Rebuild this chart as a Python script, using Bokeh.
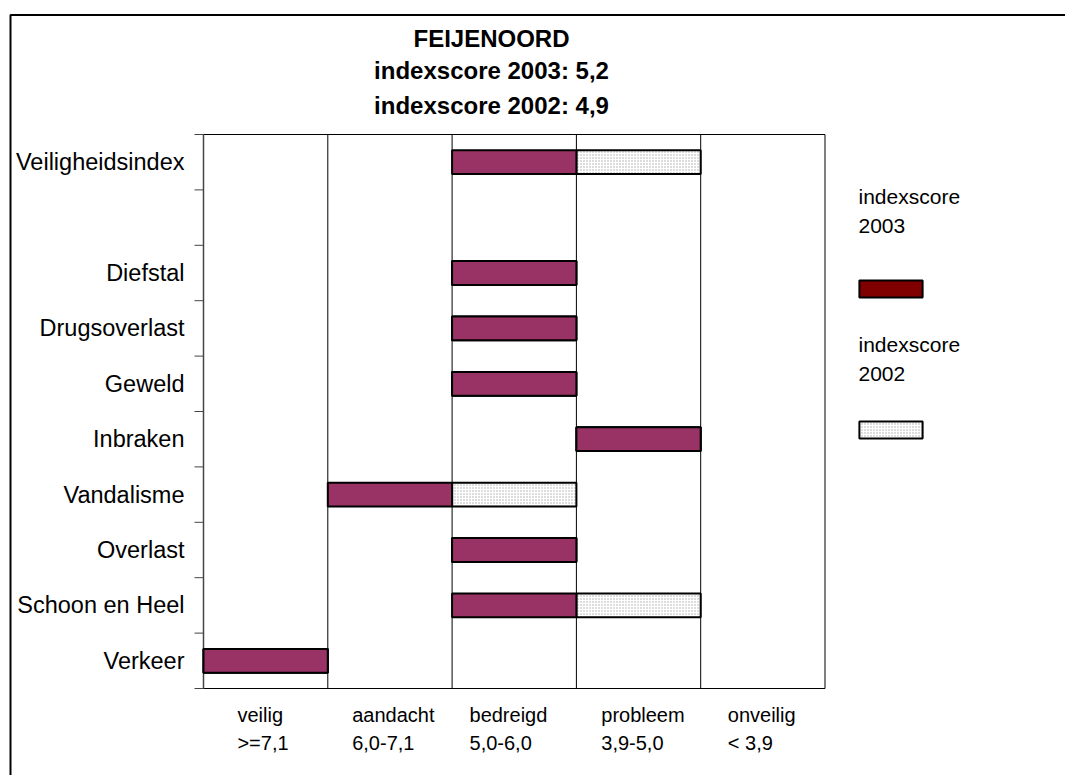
from bokeh.plotting import figure
from bokeh.models import (ColumnDataSource, Range1d, Label, Legend, LegendItem, PolyAnnotation)
from bokeh.core.properties import value
from bokeh.embed import file_html
from bokeh.resources import INLINE

# ---- data ----
categories = ["Veiligheidsindex", " ", "Diefstal", "Drugsoverlast", "Geweld", "Inbraken",
              "Vandalisme", "Overlast", "Schoon en Heel", "Verkeer"]
levels = ["veilig", "aandacht", "bedreigd", "probleem", "onveilig"]
level_ranges = [">=7,1", "6,0-7,1", "5,0-6,0", "3,9-5,0", "< 3,9"]
score_2003 = ["bedreigd", None, "bedreigd", "bedreigd", "bedreigd", "probleem",
              "aandacht", "bedreigd", "bedreigd", "veilig"]
score_2002 = ["probleem", None, "bedreigd", "bedreigd", "bedreigd", "probleem",
              "bedreigd", "bedreigd", "probleem", "veilig"]
title_lines = ["FEIJENOORD", "indexscore 2003: 5,2", "indexscore 2002: 4,9"]
legend_lines = [["indexscore", "2003"], ["indexscore", "2002"]]

# ---- layout constants (pixels) ----
W, H = 1065, 775
PLOT_L, PLOT_T = 203, 134          # top-left of plot area
BAND_PX, ROW_PX = 124.3, 55.4      # width of one band, height of one row
FONT = "Liberation Sans"

n_rows = len(categories)
n_bands = len(levels)
row_centers = [i + 0.5 for i in range(n_rows)]


def px_x(px):      # pixel offset -> data units (x)
    return px / BAND_PX


def px_y(px):      # pixel offset -> data units (y, downwards)
    return px / ROW_PX


def bar_source(scores):
    ys, lefts, rights = [], [], []
    for yc, s in zip(row_centers, scores):
        if s is None:
            continue
        i = levels.index(s)
        ys.append(yc)
        lefts.append(i)
        rights.append(i + 1)
    return ColumnDataSource(dict(y=ys, left=lefts, right=rights))


p = figure(width=W, height=H, output_backend="svg", toolbar_location=None,
           x_range=Range1d(-px_x(PLOT_L), px_x(W - PLOT_L)),
           y_range=Range1d(px_y(H - PLOT_T), -px_y(PLOT_T)),
           x_axis_location=None, y_axis_location=None,
           min_border=0, min_border_left=0, min_border_right=0,
           min_border_top=0, min_border_bottom=0)
p.outline_line_color = None
p.background_fill_color = "white"
p.border_fill_color = "white"
p.xgrid.visible = False
p.ygrid.visible = False

# outer frame (left and top edges visible)
p.add_layout(PolyAnnotation(xs=[10, 10, W + 50, W + 50], ys=[-50, H - 14.5, H - 14.5, -50],
                            xs_units="screen", ys_units="screen",
                            fill_alpha=0, line_color="black", line_alpha=1.0, line_width=2))

# plot area box and band separators
p.quad(left=[0], right=[n_bands], bottom=[n_rows], top=[0],
       fill_color=None, line_color="black", line_width=1)
p.quad(left=[0], right=[0], bottom=[n_rows], top=[0],
       fill_color=None, line_color="#444444", line_width=1.5)
bounds = list(range(1, n_bands))
p.segment(x0=bounds, y0=[0] * len(bounds), x1=bounds, y1=[n_rows] * len(bounds),
          line_color="black", line_width=1)

# row boundary tick marks on the left axis
row_bounds = list(range(n_rows + 1))
p.segment(x0=[-px_x(9)] * len(row_bounds), y0=row_bounds, x1=[0] * len(row_bounds),
          y1=row_bounds, line_color="#444444", line_width=1)

# category labels
p.text(x=[-px_x(19)] * n_rows, y=row_centers, text=categories,
       text_align="right", text_baseline="middle", text_font=value(FONT),
       text_font_size="23.5px", text_color="black")

# bars
r02 = p.hbar(y="y", left="left", right="right", height=0.43, source=bar_source(score_2002),
             fill_color="white", hatch_pattern="dot", hatch_scale=3, hatch_color="#aaaaaa",
             line_color="black", line_width=2)
r03 = p.hbar(y="y", left="left", right="right", height=0.43, source=bar_source(score_2003),
             fill_color="#993366", line_color="black", line_width=2)
# legend-only renderer for the 2003 key (its colour differs from the bars)
key03 = p.hbar(y="y", left="left", right="right", height=0.43,
               source=ColumnDataSource(dict(y=[float("nan")], left=[float("nan")],
                                            right=[float("nan")])),
               fill_color="#800000", line_color="black", line_width=2)

# band labels under the plot
label_x = [i + off for i, off in enumerate([0.273, 0.196, 0.14, 0.20, 0.218])]
p.text(x=label_x, y=[n_rows + px_y(26)] * n_bands, text=levels,
       text_align="left", text_baseline="middle", text_font=value(FONT),
       text_font_size="20px", text_color="black")
p.text(x=label_x, y=[n_rows + px_y(54)] * n_bands, text=level_ranges,
       text_align="left", text_baseline="middle", text_font=value(FONT),
       text_font_size="20px", text_color="black")

# title lines
for txt, y in zip(title_lines, [37.5, 70, 104.5]):
    p.add_layout(Label(x=491, y=H - y, x_units="screen", y_units="screen", text=txt,
                       text_align="center", text_baseline="middle",
                       text_font=FONT, text_font_style="bold", text_font_size="24px",
                       text_color="black"))

# legend: keys (Bokeh insets area keys by 10% on each side)
legend = Legend(items=[LegendItem(label=" ", renderers=[key03]),
                       LegendItem(label=" ", renderers=[r02])],
                location=(851, H - 440), orientation="vertical",
                glyph_width=79, glyph_height=21, label_height=21, label_width=0,
                label_standoff=0, spacing=120, padding=0, margin=0,
                border_line_color=None, background_fill_alpha=0,
                label_text_font_size="10px")
p.add_layout(legend)

# legend: texts above each key
for lines, ys in zip(legend_lines, [[195.5, 225], [343.5, 373]]):
    for txt, y in zip(lines, ys):
        p.add_layout(Label(x=858, y=H - y, x_units="screen", y_units="screen", text=txt,
                           text_align="left", text_baseline="middle",
                           text_font=FONT, text_font_size="21px", text_color="black"))

open("out.html", "w").write(file_html(p, INLINE))
